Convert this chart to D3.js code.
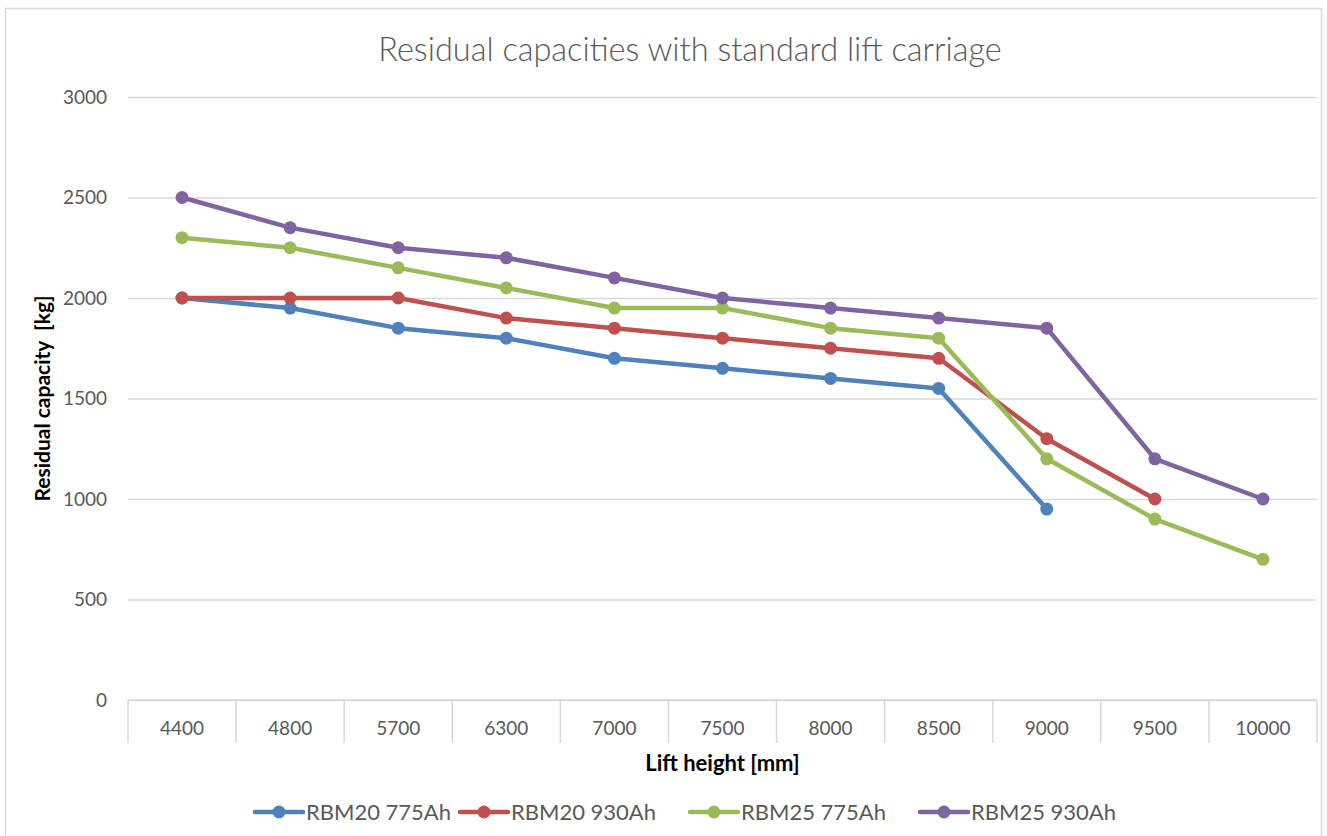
<!DOCTYPE html>
<html>
<head>
<meta charset="utf-8">
<script src="https://cdn.jsdelivr.net/npm/d3@7"></script>
<style>
  body { margin: 0; background: #fff; }
  svg { display: block; font-family: Lato, "Open Sans", sans-serif; }
</style>
</head>
<body>
<div id="container"></div>
<script>
var WIDTH = 1327,
	HEIGHT = 836,
	PLOT_LEFT = 128,
	PLOT_RIGHT = 1317,
	PLOT_TOP = 97,
	PLOT_BOTTOM = 700;

var liftHeights = ["4400", "4800", "5700", "6300", "7000", "7500", "8000", "8500", "9000", "9500", "10000"];
var yTicks = [0, 500, 1000, 1500, 2000, 2500, 3000];

var seriesNames = ["RBM20 775Ah", "RBM20 930Ah", "RBM25 775Ah", "RBM25 930Ah"];
var seriesColors = ["#4f81bd", "#c0504d", "#9bbb59", "#8064a2"];

var rbm20_775 = [2000, 1950, 1850, 1800, 1700, 1650, 1600, 1550, 950, null, null];
var rbm20_930 = [2000, 2000, 2000, 1900, 1850, 1800, 1750, 1700, 1300, 1000, null];
var rbm25_775 = [2300, 2250, 2150, 2050, 1950, 1950, 1850, 1800, 1200, 900, 700];
var rbm25_930 = [2500, 2350, 2250, 2200, 2100, 2000, 1950, 1900, 1850, 1200, 1000];

var seriesValues = [rbm20_775, rbm20_930, rbm25_775, rbm25_930];

// legend entry left edges (layout)
var LEGEND_X = [255, 460, 690, 920], LEGEND_Y = 812;

var xScale = d3.scaleBand().domain(liftHeights).range([PLOT_LEFT, PLOT_RIGHT]).padding(0);
var yScale = d3.scaleLinear().domain([0, 3000]).range([PLOT_BOTTOM, PLOT_TOP]);

var xMid = function (cat) { return xScale(cat) + xScale.bandwidth() / 2; };

var svg = d3.select('#container')
	.append('svg')
	.attr('width', WIDTH)
	.attr('height', HEIGHT);

// chart frame
svg.append('rect')
	.attr('x', 5.5).attr('y', 8.5)
	.attr('width', 1316).attr('height', 860)
	.attr('fill', '#fff')
	.attr('stroke', '#d9d9d9')
	.attr('stroke-width', 1.5);

// title
svg.append('text')
	.attr('x', 690).attr('y', 61)
	.attr('text-anchor', 'middle')
	.attr('font-size', 32.5)
	.attr('font-weight', 300)
	.attr('fill', '#595959')
	.text('Residual capacities with standard lift carriage');

// y axis with gridlines
var yAxis = d3.axisLeft(yScale).tickValues(yTicks).tickFormat(d3.format('d'))
	.tickSize(-(PLOT_RIGHT - PLOT_LEFT)).tickPadding(21);
var yG = svg.append('g')
	.attr('transform', 'translate(' + PLOT_LEFT + ',0)')
	.call(yAxis);
yG.select('.domain').remove();
yG.selectAll('.tick line').attr('stroke', '#d9d9d9').attr('stroke-width', 1.5);
yG.selectAll('.tick text')
	.attr('fill', '#595959')
	.attr('font-size', 19)
	.attr('font-family', 'Lato, sans-serif');

// x axis labels
var xAxis = d3.axisBottom(xScale).tickSize(0).tickPadding(22);
var xG = svg.append('g')
	.attr('transform', 'translate(0,' + PLOT_BOTTOM + ')')
	.call(xAxis);
xG.select('.domain').remove();
xG.selectAll('.tick text')
	.attr('fill', '#595959')
	.attr('font-size', 19)
	.attr('font-family', 'Lato, sans-serif');

// category separators
var edges = liftHeights.map(function (c) { return xScale(c); }).concat([xScale.range()[1]]);
svg.append('g').selectAll('line').data(edges).enter()
	.append('line')
	.attr('x1', function (d) { return d; })
	.attr('x2', function (d) { return d; })
	.attr('y1', PLOT_BOTTOM)
	.attr('y2', PLOT_BOTTOM + 43)
	.attr('stroke', '#d9d9d9')
	.attr('stroke-width', 1.5);
svg.append('line')
	.attr('x1', PLOT_LEFT).attr('x2', PLOT_RIGHT)
	.attr('y1', PLOT_BOTTOM).attr('y2', PLOT_BOTTOM)
	.attr('stroke', '#d9d9d9')
	.attr('stroke-width', 1.5);

// axis titles
svg.append('text')
	.attr('x', (PLOT_LEFT + PLOT_RIGHT) / 2).attr('y', 771)
	.attr('text-anchor', 'middle')
	.attr('font-size', 22)
	.attr('font-weight', 700)
	.attr('fill', '#000')
	.text('Lift height [mm]');

svg.append('text')
	.attr('transform', 'translate(50,' + (PLOT_TOP + PLOT_BOTTOM) / 2 + ') rotate(-90)')
	.attr('text-anchor', 'middle')
	.attr('font-size', 21)
	.attr('font-weight', 700)
	.attr('fill', '#000')
	.style('white-space', 'pre')
	.text('Residual capacity  [kg]');

// series
var lineFn = d3.line()
	.defined(function (d) { return d.v !== null; })
	.x(function (d) { return xMid(d.cat); })
	.y(function (d) { return yScale(d.v); });

seriesValues.forEach(function (vals, i) {
	var pts = vals.map(function (v, j) { return { cat: liftHeights[j], v: v }; });
	var g = svg.append('g');
	g.append('path')
		.attr('d', lineFn(pts))
		.attr('fill', 'none')
		.attr('stroke', seriesColors[i])
		.attr('stroke-width', 4.5)
		.attr('stroke-linejoin', 'round')
		.attr('stroke-linecap', 'round');
	g.selectAll('circle').data(pts.filter(function (d) { return d.v !== null; })).enter()
		.append('circle')
		.attr('cx', function (d) { return xMid(d.cat); })
		.attr('cy', function (d) { return yScale(d.v); })
		.attr('r', 6.5)
		.attr('fill', seriesColors[i]);
});

// legend
seriesNames.forEach(function (name, i) {
	var g = svg.append('g').attr('transform', 'translate(' + LEGEND_X[i] + ',' + LEGEND_Y + ')');
	g.append('line')
		.attr('x1', 0).attr('x2', 48)
		.attr('y1', 0).attr('y2', 0)
		.attr('stroke', seriesColors[i])
		.attr('stroke-width', 4.5)
		.attr('stroke-linecap', 'round');
	g.append('circle').attr('cx', 24).attr('cy', 0).attr('r', 6.5).attr('fill', seriesColors[i]);
	g.append('text')
		.attr('x', 51).attr('y', 8)
		.attr('font-size', 22)
		.attr('fill', '#595959')
		.text(name);
});
</script>
</body>
</html>
